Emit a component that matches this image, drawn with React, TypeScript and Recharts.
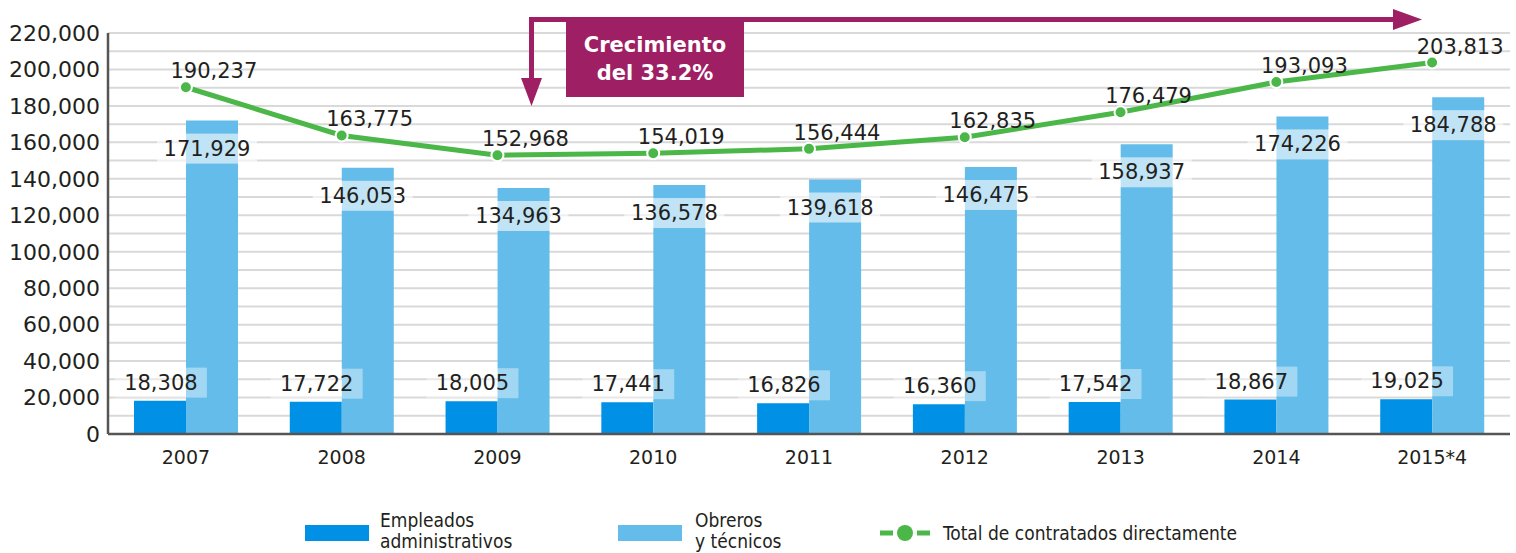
import { ComposedChart, Bar, Line, XAxis, YAxis, CartesianGrid, LabelList } from 'recharts';

const years = ['2007', '2008', '2009', '2010', '2011', '2012', '2013', '2014', '2015*4'];
const empleados = [18308, 17722, 18005, 17441, 16826, 16360, 17542, 18867, 19025];
const obreros = [171929, 146053, 134963, 136578, 139618, 146475, 158937, 174226, 184788];
const total = [190237, 163775, 152968, 154019, 156444, 162835, 176479, 193093, 203813];
const yTicks = Array.from({ length: 23 }, (_, i) => i * 10000);

const data = years.map((year, i) => ({
  year,
  empleados: empleados[i],
  obreros: obreros[i],
  total: total[i],
}));

const INK = '#231f20';
const BLUE = '#0091e6';
const LIGHT = '#63bce9';
const GREEN = '#4bb748';
const MAROON = '#9e1f63';

const fmt = (v: number) => String(v).replace(/\B(?=(\d{3})+(?!\d))/g, ',');

// label inside top of the light bar, on a pale box
const ObrerosLabel = (props: any) => {
  const { x, y, width, value } = props;
  const cx = x + width / 2 - 5;
  const cy = y + 28;
  return (
    <g>
      <rect x={cx - 50} y={cy - 15} width={100} height={30} fill="#fff" fillOpacity={0.6} />
      <text x={cx} y={cy} textAnchor="middle" dominantBaseline="central" fontSize={21} fill={INK}>
        {fmt(value)}
      </text>
    </g>
  );
};

// label above the dark bar (drawn from an invisible line so it sits on top)
const EmpleadosLabel = (props: any) => {
  const { x, y, value } = props;
  const cx = x - 25;
  const cy = y - 18;
  return (
    <g>
      <rect x={cx - 46} y={cy - 15} width={92} height={30} fill="#fff" fillOpacity={0.4} />
      <text x={cx} y={cy} textAnchor="middle" dominantBaseline="central" fontSize={21} fill={INK}>
        {fmt(value)}
      </text>
    </g>
  );
};

const TotalLabel = (props: any) => {
  const { x, y, value } = props;
  return (
    <text x={x + 28} y={y - 16} textAnchor="middle" dominantBaseline="central" fontSize={21} fill={INK}>
      {fmt(value)}
    </text>
  );
};

const TotalDot = (props: any) => {
  const { cx, cy, index } = props;
  return <circle key={index} cx={cx} cy={cy} r={6} fill={GREEN} stroke="#fff" strokeWidth={2} />;
};

export default function App() {
  return (
    <div style={{ position: 'absolute', left: 0, top: 0, width: 1516, height: 553, background: '#fff', fontFamily: 'DejaVu Sans' }}>
      <ComposedChart
        width={1516}
        height={480}
        data={data}
        margin={{ top: 33, right: 6, left: 0, bottom: 0 }}
        barGap={0}
      >
        <CartesianGrid vertical={false} stroke="#d9d9d9" strokeWidth={2} />
        <XAxis
          dataKey="year"
          height={46}
          axisLine={{ stroke: '#555', strokeWidth: 2.5 }}
          tickLine={false}
          tickSize={0}
          tickMargin={17}
          tick={{ fontSize: 19, fill: INK }}
        />
        <YAxis
          width={108}
          domain={[0, 220000]}
          ticks={yTicks}
          interval={0}
          tickFormatter={(v: number) => (v % 20000 === 0 ? fmt(v) : '')}
          axisLine={{ stroke: '#555', strokeWidth: 2.5 }}
          tickLine={false}
          tickSize={0}
          tickMargin={8}
          tick={{ fontSize: 22, fill: INK }}
        />
        <Bar dataKey="empleados" fill={BLUE} barSize={52} isAnimationActive={false} />
        <Bar dataKey="obreros" fill={LIGHT} barSize={52} isAnimationActive={false}>
          <LabelList dataKey="obreros" content={<ObrerosLabel />} />
        </Bar>
        <Line
          dataKey="empleados"
          stroke="none"
          dot={false}
          activeDot={false}
          isAnimationActive={false}
        >
          <LabelList dataKey="empleados" content={<EmpleadosLabel />} />
        </Line>
        <Line
          type="linear"
          dataKey="total"
          stroke={GREEN}
          strokeWidth={5}
          dot={<TotalDot />}
          activeDot={false}
          isAnimationActive={false}
        >
          <LabelList dataKey="total" content={<TotalLabel />} />
        </Line>
      </ComposedChart>

      <svg width={1516} height={553} style={{ position: 'absolute', left: 0, top: 0, pointerEvents: 'none' }}>
        {/* growth arrow annotation */}
        <line x1={529} y1={19.5} x2={1397} y2={19.5} stroke={MAROON} strokeWidth={5} />
        <polygon points="1393,9 1422,19.5 1393,30" fill={MAROON} />
        <line x1={531.5} y1={17} x2={531.5} y2={82} stroke={MAROON} strokeWidth={5} />
        <polygon points="521,78 542,78 531.5,106" fill={MAROON} />
        <rect x={566} y={22} width={178} height={75} fill={MAROON} />
        <text x={655} y={52} textAnchor="middle" fontSize={21} fontWeight="bold" fill="#fff">
          Crecimiento
        </text>
        <text x={655} y={80} textAnchor="middle" fontSize={21} fontWeight="bold" fill="#fff">
          del 33.2%
        </text>

        {/* legend */}
        <g style={{ fontFamily: '"DejaVu Sans Condensed", "Liberation Sans Narrow", "DejaVu Sans"', fontStretch: 'condensed' }} fontSize={19} fill={INK}>
          <rect x={305} y={525} width={64} height={16} fill={BLUE} />
          <text x={380} y={527}>Empleados</text>
          <text x={380} y={548}>administrativos</text>
          <rect x={618} y={525} width={64} height={16} fill={LIGHT} />
          <text x={695} y={527}>Obreros</text>
          <text x={695} y={548}>y técnicos</text>
          <line x1={880} y1={533} x2={893} y2={533} stroke={GREEN} strokeWidth={5} />
          <line x1={917} y1={533} x2={930} y2={533} stroke={GREEN} strokeWidth={5} />
          <circle cx={905} cy={533} r={8} fill={GREEN} />
          <text x={943} y={540}>Total de contratados directamente</text>
        </g>
      </svg>
    </div>
  );
}
